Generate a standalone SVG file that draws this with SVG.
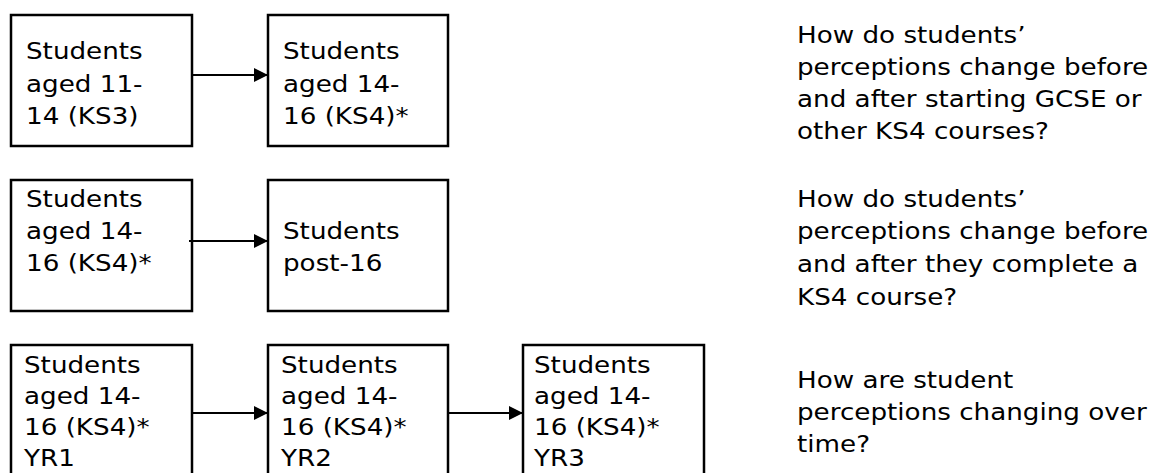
<svg xmlns="http://www.w3.org/2000/svg" width="1155" height="473" viewBox="0 0 1155 473">
<style>
.box{fill:#fff;stroke:#000;stroke-width:2.5}
.t{font-family:"DejaVu Sans",Verdana,sans-serif;font-size:23.5px;fill:#000}
.c{stroke:#000;stroke-width:2;fill:none}
</style>
<defs>
<marker id="ah" markerUnits="userSpaceOnUse" markerWidth="15" markerHeight="15" refX="14" refY="7" orient="auto">
<path d="M0,0 L14,7 L0,14 Z" fill="#000"/>
</marker>
</defs>
<rect width="1155" height="473" fill="#fff"/>
<g id="r1a"><rect class="box" x="11" y="15" width="181" height="131"/>
<text class="t" transform="translate(26 59) scale(1.115 1)"><tspan x="0" y="0">Students</tspan><tspan x="0" y="33">aged 11-</tspan><tspan x="0" y="65.5">14 (KS3)</tspan></text></g>
<g id="r1b"><rect class="box" x="268" y="15" width="180" height="131"/>
<text class="t" transform="translate(283 59) scale(1.115 1)"><tspan x="0" y="0">Students</tspan><tspan x="0" y="33">aged 14-</tspan><tspan x="0" y="65.5">16 (KS4)*</tspan></text></g>
<g id="q1"><text class="t" transform="translate(797 43) scale(1.115 1)"><tspan x="0" y="0">How do students’</tspan><tspan x="0" y="32">perceptions change before</tspan><tspan x="0" y="64.5">and after starting GCSE or</tspan><tspan x="0" y="96.5">other KS4 courses?</tspan></text></g>
<g id="r2a"><rect class="box" x="11" y="180" width="181" height="131"/>
<text class="t" transform="translate(26 207) scale(1.115 1)"><tspan x="0" y="0">Students</tspan><tspan x="0" y="32">aged 14-</tspan><tspan x="0" y="64">16 (KS4)*</tspan></text></g>
<g id="r2b"><rect class="box" x="268" y="180" width="180" height="131"/>
<text class="t" transform="translate(283 239) scale(1.115 1)"><tspan x="0" y="0">Students</tspan><tspan x="0" y="32">post-16</tspan></text></g>
<g id="q2"><text class="t" transform="translate(797 207) scale(1.115 1)"><tspan x="0" y="0">How do students’</tspan><tspan x="0" y="32.5">perceptions change before</tspan><tspan x="0" y="65">and after they complete a</tspan><tspan x="0" y="98">KS4 course?</tspan></text></g>
<g id="r3a"><rect class="box" x="11" y="345" width="181" height="140"/>
<text class="t" transform="translate(24 373) scale(1.115 1)"><tspan x="0" y="0">Students</tspan><tspan x="0" y="31">aged 14-</tspan><tspan x="0" y="62">16 (KS4)*</tspan><tspan x="0" y="93">YR1</tspan></text></g>
<g id="r3b"><rect class="box" x="268" y="345" width="180" height="140"/>
<text class="t" transform="translate(281 373) scale(1.115 1)"><tspan x="0" y="0">Students</tspan><tspan x="0" y="31">aged 14-</tspan><tspan x="0" y="62">16 (KS4)*</tspan><tspan x="0" y="93">YR2</tspan></text></g>
<g id="r3c"><rect class="box" x="523" y="345" width="181" height="140"/>
<text class="t" transform="translate(534 373) scale(1.115 1)"><tspan x="0" y="0">Students</tspan><tspan x="0" y="31">aged 14-</tspan><tspan x="0" y="62">16 (KS4)*</tspan><tspan x="0" y="93">YR3</tspan></text></g>
<g id="q3"><text class="t" transform="translate(797 388) scale(1.115 1)"><tspan x="0" y="0">How are student</tspan><tspan x="0" y="32">perceptions changing over</tspan><tspan x="0" y="64">time?</tspan></text></g>
<g id="connectors">
<line class="c" x1="192" y1="75" x2="268" y2="75" marker-end="url(#ah)"/>
<line class="c" x1="189" y1="241" x2="268" y2="241" marker-end="url(#ah)"/>
<line class="c" x1="192" y1="413" x2="268" y2="413" marker-end="url(#ah)"/>
<line class="c" x1="448" y1="413" x2="523" y2="413" marker-end="url(#ah)"/>
</g>
</svg>
